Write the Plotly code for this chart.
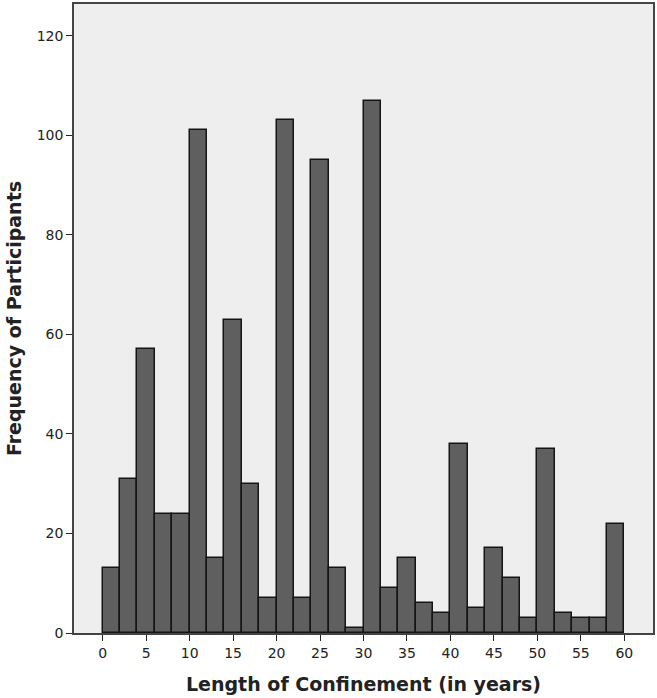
import plotly.graph_objects as go

# histogram bins (2-year wide) and participant counts
bin_starts = [0, 2, 4, 6, 8, 10, 12, 14, 16, 18, 20, 22, 24, 26, 28,
              30, 32, 34, 36, 38, 40, 42, 44, 46, 48, 50, 52, 54, 56, 58]
counts = [13, 31, 57, 24, 24, 101, 15, 63, 30, 7, 103, 7, 95, 13, 1,
          107, 9, 15, 6, 4, 38, 5, 17, 11, 3, 37, 4, 3, 3, 22]
x_ticks = [0, 5, 10, 15, 20, 25, 30, 35, 40, 45, 50, 55, 60]
y_ticks = [0, 20, 40, 60, 80, 100, 120]

fig = go.Figure(go.Bar(
    x=bin_starts, y=counts, width=2, offset=0,
    marker=dict(color="#5f5f5f", line=dict(color="#151515", width=1.5)),
))

fig.update_layout(
    width=657, height=698,
    margin=dict(l=74, r=2, t=2, b=65),
    paper_bgcolor="white", plot_bgcolor="#eeeeee",
    font=dict(family="DejaVu Sans", size=14, color="#222"),
    showlegend=False, bargap=0,
)
fig.update_xaxes(
    range=[-3.3, 63.3], tickvals=x_ticks, ticks="outside", ticklen=6,
    tickcolor="#222", tickfont=dict(size=14), showgrid=False, zeroline=False,
    showline=True, linecolor="#444", linewidth=1.5, mirror=True,
    title=dict(text="<b>Length of Confinement (in years)</b>", font=dict(size=19), standoff=18),
)
fig.update_yaxes(
    range=[0, 126.4], tickvals=y_ticks, ticks="outside", ticklen=6,
    tickcolor="#222", tickfont=dict(size=14), showgrid=False, zeroline=False,
    showline=True, linecolor="#444", linewidth=1.5, mirror=True,
    title=dict(text="<b>Frequency of Participants</b>", font=dict(size=19), standoff=10),
)

fig.write_html("out.html", config={"displayModeBar": False},
               post_script="document.body.style.margin='0';")
